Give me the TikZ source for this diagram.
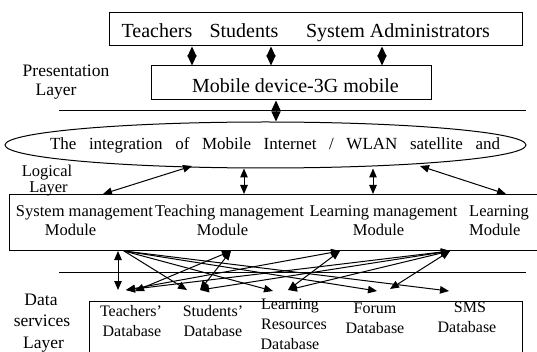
\documentclass[tikz,border=0pt]{standalone}
\usepackage{fontspec}
\setmainfont{Liberation Serif}
\usetikzlibrary{arrows.meta,shapes.geometric}
\begin{document}
\begin{tikzpicture}[x=1pt,y=-1pt,
  box/.style={draw,line width=1pt,inner sep=0pt},
  lbl/.style={anchor=base,inner sep=0pt},
  lblw/.style={anchor=base west,inner sep=0pt},
  dia/.style={{Triangle[length=10pt,width=9pt]}-{Triangle[length=10pt,width=9pt]},line width=1pt},
  arr/.style={-{Triangle[length=9pt,width=7.5pt]},line width=1pt},
  darr/.style={{Triangle[length=9pt,width=7.5pt]}-{Triangle[length=9pt,width=7.5pt]},line width=1pt},
  fbig/.style={font=\fontsize{20}{24}\selectfont},
  flayer/.style={font=\fontsize{17.5}{20}\selectfont},
  flog/.style={font=\fontsize{16.5}{20}\selectfont},
  fell/.style={font=\fontsize{17}{20}\selectfont},
  fmod/.style={font=\fontsize{16.5}{20}\selectfont},
  fdb/.style={font=\fontsize{16}{20}\selectfont},
  rule/.style={line width=1pt}
]
\fill[white] (0,0) rectangle (537,352);
\useasboundingbox (0,0) rectangle (537,352);

% boxes
\node[box,minimum width=413pt,minimum height=33pt] (tbox) at (315.5,29.5) {};
\node[box,minimum width=280pt,minimum height=34pt] (mob) at (291,83) {};
\node[draw,ellipse,line width=1pt,minimum width=521pt,minimum height=46pt,inner sep=0pt] (ell) at (265.5,145) {};
\node[box,anchor=north west,minimum width=540pt,minimum height=56pt] (mbox) at (9,194) {};
\node[box,anchor=north west,minimum width=433pt,minimum height=70pt] (dbox) at (89,301) {};

% separator rules
\coordinate (r1a) at (59,111); \coordinate (r1b) at (526,111);
\coordinate (r2a) at (59,272); \coordinate (r2b) at (526,272);
\draw[rule] (r1a) -- (r1b);
\draw[rule] (r2a) -- (r2b);

% texts
\node[lbl,fbig] (tTeach) at (157,38) {Teachers};
\node[lbl,fbig] (tStud) at (244,38) {Students};
\node[lbl,fbig] (tAdmin) at (398,38) {System Administrators};
\node[lbl,fbig] (tMob) at (295.5,93) {Mobile device-3G mobile};
\node[lbl,flayer] (pres1) at (66,77) {Presentation};
\node[lbl,flayer] (pres2) at (56,96) {Layer};
\node[lbl,fell] (tEll) at (275,150) {\makebox[450pt][s]{The integration of Mobile Internet / WLAN satellite and}};
\node[lbl,flog] (log1) at (47,177) {Logical};
\node[lbl,flog] (log2) at (48.5,192.5) {Layer};
\node[lbl,fmod] (m1a) at (84.5,217) {System management};
\node[lbl,fmod] (m1b) at (70.5,236) {Module};
\node[lbl,fmod] (m2a) at (229.5,217) {Teaching management};
\node[lbl,fmod] (m2b) at (222.5,236) {Module};
\node[lbl,fmod] (m3a) at (383.5,217) {Learning management};
\node[lbl,fmod] (m3b) at (378.5,236) {Module};
\node[lblw,fmod] (m4a) at (469,217) {Learning};
\node[lblw,fmod] (m4b) at (469,236) {Module};
\node[lbl,flayer] (ds1) at (41,305) {Data};
\node[lbl,flayer] (ds2) at (42,326) {services};
\node[lbl,flayer] (ds3) at (43.5,348) {Layer};
\node[lbl,fdb] (d1a) at (131,316) {Teachers'};
\node[lbl,fdb] (d1b) at (132,336) {Database};
\node[lbl,fdb] (d2a) at (213,316) {Students'};
\node[lbl,fdb] (d2b) at (213,336) {Database};
\node[lbl,fdb] (d3a) at (290,309) {Learning};
\node[lbl,fdb] (d3b) at (294,329) {Resources};
\node[lbl,fdb] (d3c) at (290,349) {Database};
\node[lbl,fdb] (d4a) at (375,313) {Forum};
\node[lbl,fdb] (d4b) at (375,333) {Database};
\node[lbl,fdb] (d5a) at (470,312) {SMS};
\node[lbl,fdb] (d5b) at (467,332) {Database};

% presentation layer connectors
\coordinate (ca) at (192,0); \coordinate (cb) at (271,0); \coordinate (cc) at (382,0); \coordinate (cd) at (276,0);
\draw[dia] (tbox.south -| ca) -- (mob.north -| ca);
\draw[dia] (tbox.south -| cb) -- (mob.north -| cb);
\draw[dia] (tbox.south -| cc) -- (mob.north -| cc);
\draw[dia] (mob.south -| cd) -- (ell.north -| cd);

% logical layer connectors
\coordinate (e1) at (192,166); \coordinate (s1) at (103,194);
\coordinate (e4) at (420,166); \coordinate (s4) at (506,194);
\coordinate (cv1) at (244,0); \coordinate (cv2) at (373,0);
\draw[darr] (e1) -- (s1);
\draw[darr] (e4) -- (s4);
\draw[darr] (ell.south -| cv1) -- (mbox.north -| cv1);
\draw[darr] (ell.south -| cv2) -- (mbox.north -| cv2);

% module side points
\coordinate (pS0) at (118,251);
\coordinate (pS) at (124,251);
\coordinate (pT) at (231,251);
\coordinate (pL) at (340,251);
\coordinate (pM) at (450,251);
% database side points
\coordinate (qT0) at (118,290);
\coordinate (qT1) at (126,290);
\coordinate (qT2) at (135,291);
\coordinate (qS1) at (187,290);
\coordinate (qS2) at (200,290);
\coordinate (qR1) at (273,291);
\coordinate (qR2) at (288,290);
\coordinate (qF1) at (377,291);
\coordinate (qF2) at (390,289);
\coordinate (qM) at (449,291);

\draw[darr] (pS0) -- (qT0);
\draw[arr] (pS) -- (qS1);
\draw[arr] (pS) -- (qR1);
\draw[arr] (pS) -- (qF1);
\draw[arr] (pS) -- (qM);
\draw[darr] (pT) -- (qT2);
\draw[darr] (pT) -- (qS2);
\draw[darr] (pL) -- (qT1);
\draw[darr] (pL) -- (qR2);
\draw[darr] (pM) -- (qT1);
\draw[darr] (pM) -- (qS2);
\draw[darr] (pM) -- (qR2);
\draw[darr] (pM) -- (qF2);
\end{tikzpicture}
\end{document}
